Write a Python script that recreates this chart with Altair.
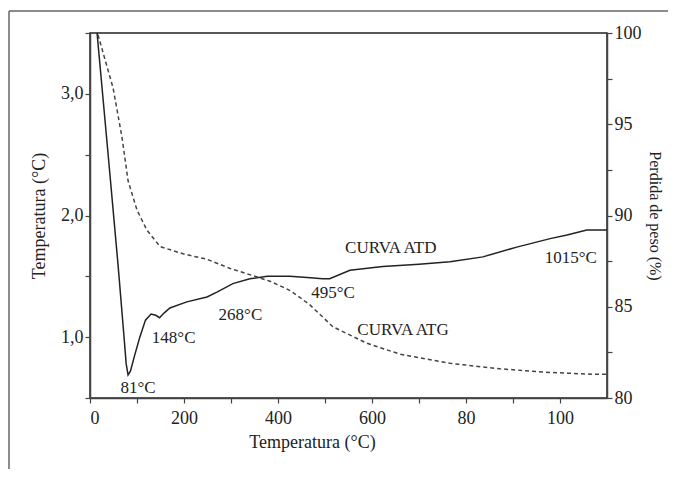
import altair as alt
import pandas as pd

# ATD curve (left axis)
atd_x = [15, 40, 60, 72, 77, 81, 86, 95, 106, 118, 130, 140, 148, 158, 170, 206, 249, 270, 304, 340,
         377, 425, 462, 495, 510, 553, 623, 700, 766, 836, 908, 979, 1015, 1057, 1100]
atd_y = [3.50, 2.44, 1.58, 1.02, 0.78, 0.69, 0.72, 0.85, 1.00, 1.14, 1.19, 1.18, 1.16, 1.20, 1.24,
         1.29, 1.33, 1.37, 1.44, 1.48, 1.50, 1.50, 1.49, 1.48, 1.48, 1.55, 1.58, 1.60, 1.62, 1.66,
         1.74, 1.81, 1.84, 1.88, 1.88]

# ATG curve (right axis)
atg_x = [17, 28, 49, 68, 81, 100, 121, 149, 198, 249, 298, 347, 383, 425, 447, 468, 517, 589,
         660, 766, 872, 979, 1070, 1100]
atg_y = [99.9, 98.9, 97.0, 94.3, 91.9, 90.3, 89.2, 88.3, 87.9, 87.6, 87.1, 86.7, 86.4, 85.9,
         85.5, 85.1, 83.9, 83.0, 82.4, 81.9, 81.6, 81.4, 81.3, 81.3]

# annotations (data coordinates on left scale)
ann_text = ["81°C", "148°C", "268°C", "495°C", "CURVA ATD", "CURVA ATG", "1015°C"]
ann_x = [102, 178, 320, 517, 640, 666, 1023]
ann_y = [0.58, 0.99, 1.18, 1.36, 1.735, 1.06, 1.65]

# ticks
x_tick_values = [0, 100, 200, 300, 400, 500, 600, 700, 800, 900, 1000]
x_label_values = [0, 200, 400, 600, 800, 1000]
x_labels = ["0", "200", "400", "600", "80", "100"]
yl_tick_values = [0.5, 0.75, 1.0, 1.25, 1.5, 1.75, 2.0, 2.25, 2.5, 2.75, 3.0, 3.25, 3.5]
yl_label_values = [1, 2, 3]
yl_labels = ["1,0", "2,0", "3,0"]
yr_tick_values = [80, 82.5, 85, 87.5, 90, 92.5, 95, 97.5, 100]
yr_label_values = [80, 85, 90, 95, 100]
yr_labels = ["80", "85", "90", "95", "100"]


def label_expr(vals, labs):
    expr = "''"
    for v, l in reversed(list(zip(vals, labs))):
        expr = f"datum.value == {v} ? '{l}' : ({expr})"
    return expr


FONT = "Liberation Serif"
INK = "#222"

atd = pd.DataFrame({"x": atd_x, "y": atd_y})
atg = pd.DataFrame({"x": atg_x, "y": atg_y})
ann = pd.DataFrame({"t": ann_text, "x": ann_x, "y": ann_y})

xscale = alt.Scale(domain=[0, 1100], nice=False, zero=False)
yl_scale = alt.Scale(domain=[0.5, 3.5], nice=False, zero=False)
yr_scale = alt.Scale(domain=[80, 100], nice=False, zero=False)

x_axis = alt.Axis(values=x_tick_values, labelExpr=label_expr(x_label_values, x_labels),
                  title="Temperatura (°C)", titleX=222, titleAlign="center", titleAnchor="start",
                  titlePadding=6, labelPadding=6)

atd_line = alt.Chart(atd).mark_line(color=INK, strokeWidth=1.5).encode(
    x=alt.X("x:Q", scale=xscale, axis=x_axis),
    y=alt.Y("y:Q", scale=yl_scale,
            axis=alt.Axis(orient="left", values=yl_tick_values,
                          labelExpr=label_expr(yl_label_values, yl_labels),
                          title="Temperatura (°C)", titlePadding=12)),
)

texts = alt.Chart(ann).mark_text(font=FONT, fontSize=17, color=INK).encode(
    x=alt.X("x:Q", scale=xscale),
    y=alt.Y("y:Q", scale=yl_scale),
    text="t:N",
)

left = alt.layer(atd_line, texts)

atg_line = alt.Chart(atg).mark_line(color="#444", strokeWidth=1.5, strokeDash=[4, 3]).encode(
    x=alt.X("x:Q", scale=xscale),
    y=alt.Y("y:Q", scale=yr_scale,
            axis=alt.Axis(orient="right", values=yr_tick_values,
                          labelExpr=label_expr(yr_label_values, yr_labels),
                          title="Perdida de peso (%)", titlePadding=5, titleAngle=90,
                          titleFontSize=16)),
)

frame_data = alt.Data(values=[{"k": 1}])
frame_top = alt.Chart(frame_data).mark_rule(color="#666", strokeWidth=1.5).encode(
    x=alt.value(-81), x2=alt.value(700), y=alt.value(-22))
frame_left = alt.Chart(frame_data).mark_rule(color="#666", strokeWidth=1.5).encode(
    x=alt.value(-81), y=alt.value(-22), y2=alt.value(500))

chart = alt.layer(left, atg_line, frame_top, frame_left).resolve_scale(y="independent").properties(
    width=517, height=365,
    autosize=alt.AutoSizeParams(type="none"),
    padding={"left": 82, "top": 25, "right": 61, "bottom": 71},
    background="white",
).configure_view(stroke=INK, strokeWidth=1.5).configure_axis(
    grid=False, labelFont=FONT, titleFont=FONT, labelFontSize=18, titleFontSize=18,
    titleFontWeight="normal", labelColor=INK, titleColor=INK, domainColor="#444",
    tickColor="#444", domainWidth=1.5, tickWidth=1.2, tickSize=5,
)

chart.save("out.html", embed_options={"renderer": "svg", "actions": False})
